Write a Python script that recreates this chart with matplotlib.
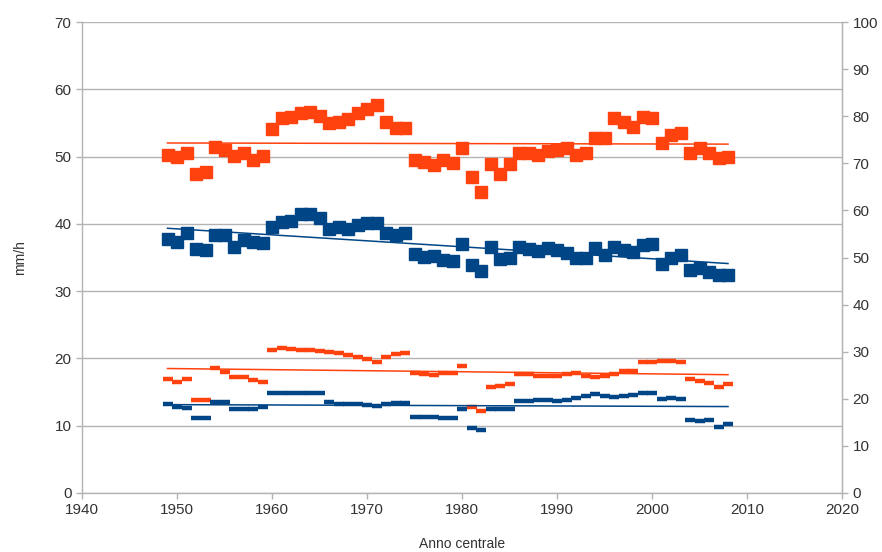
import numpy as np
import matplotlib
matplotlib.use("Agg")
import matplotlib.pyplot as plt
from matplotlib import font_manager

years = list(range(1949, 2009))

# large markers (mm/h)
orange_main = [50.2, 49.9, 50.5, 47.4, 47.7, 51.4, 51.0, 50.1, 50.5, 49.5,
               50.1, 54.1, 55.7, 55.9, 56.5, 56.6, 56.0, 55.0, 55.2, 55.6,
               56.5, 57.0, 57.6, 55.1, 54.2, 54.3, 49.5, 49.2, 48.7, 49.5,
               49.1, 51.3, 47.0, 44.7, 48.9, 47.4, 48.9, 50.5, 50.5, 50.2,
               50.9, 51.0, 51.3, 50.2, 50.5, 52.8, 52.7, 55.8, 55.2, 54.4,
               55.9, 55.7, 52.0, 53.2, 53.5, 50.6, 51.2, 50.5, 49.8, 49.9]
blue_main = [37.7, 37.3, 38.6, 36.2, 36.1, 38.3, 38.3, 36.6, 37.6, 37.3,
             37.1, 39.5, 40.3, 40.4, 41.5, 41.5, 40.9, 39.2, 39.5, 39.3,
             39.9, 40.1, 40.1, 38.6, 38.4, 38.6, 35.5, 35.1, 35.2, 34.6,
             34.5, 37.0, 33.9, 33.0, 36.6, 34.8, 34.9, 36.6, 36.2, 36.0,
             36.4, 36.1, 35.7, 34.9, 34.9, 36.4, 35.4, 36.6, 36.1, 35.8,
             36.8, 37.0, 34.0, 34.9, 35.4, 33.1, 33.4, 32.9, 32.4, 32.4]

# dash markers (mm/h)
orange_dash = [16.9, 16.5, 16.9, 13.8, 13.8, 18.6, 18.0, 17.3, 17.3, 16.8,
               16.5, 21.2, 21.5, 21.4, 21.2, 21.2, 21.1, 20.9, 20.8, 20.5,
               20.2, 19.9, 19.5, 20.2, 20.6, 20.8, 17.8, 17.7, 17.5, 17.8,
               17.8, 18.9, 12.8, 12.2, 15.8, 15.9, 16.2, 17.7, 17.7, 17.4,
               17.4, 17.4, 17.7, 17.8, 17.4, 17.3, 17.4, 17.7, 18.1, 18.1,
               19.4, 19.5, 19.6, 19.6, 19.5, 17.0, 16.6, 16.4, 15.8, 16.2]
blue_dash = [13.2, 12.8, 12.6, 11.1, 11.1, 13.5, 13.5, 12.5, 12.5, 12.5,
             12.8, 14.9, 14.9, 14.9, 14.9, 14.9, 14.9, 13.5, 13.3, 13.2,
             13.2, 13.1, 12.9, 13.3, 13.4, 13.4, 11.3, 11.3, 11.3, 11.1,
             11.1, 12.5, 9.7, 9.4, 12.5, 12.5, 12.5, 13.7, 13.7, 13.8,
             13.8, 13.7, 13.8, 14.1, 14.4, 14.7, 14.4, 14.2, 14.4, 14.6,
             14.9, 14.9, 14.0, 14.1, 14.0, 10.8, 10.7, 10.8, 9.8, 10.2]

x_ticks = list(range(1940, 2021, 10))
left_ticks = list(range(0, 71, 10))
right_ticks = list(range(0, 101, 10))

ORANGE = "#ff420e"
BLUE = "#004586"
GRID = "#b3b3b3"
TEXT = "#333333"

names = {f.name for f in font_manager.fontManager.ttflist}
family = "Liberation Sans Narrow" if "Liberation Sans Narrow" in names else "Liberation Sans"
plt.rcParams["font.family"] = [family, "DejaVu Sans"]

fig = plt.figure(figsize=(8.82, 5.52), dpi=100)
ax = fig.add_axes([82 / 882, 1 - 493 / 552, 760 / 882, 471 / 552])

x = np.array(years, dtype=float)


def trend(values, color):
    coef = np.polyfit(x, np.array(values), 1)
    ax.plot([x[0], x[-1]], np.polyval(coef, [x[0], x[-1]]),
            color=color, lw=1.1, zorder=3)


ax.plot(x, orange_main, ls="none", marker="s", ms=8.2, color=ORANGE,
        mec=ORANGE, zorder=2)
ax.plot(x, blue_main, ls="none", marker="s", ms=8.2, color=BLUE,
        mec=BLUE, zorder=2)
ax.plot(x, orange_dash, ls="none", marker="_", ms=7.8, mew=3.2,
        color=ORANGE, zorder=2)
ax.plot(x, blue_dash, ls="none", marker="_", ms=7.8, mew=3.2,
        color=BLUE, zorder=2)

for vals, col in ((orange_main, ORANGE), (blue_main, BLUE),
                  (orange_dash, ORANGE), (blue_dash, BLUE)):
    trend(vals, col)

ax.set_xlim(1940, 2020)
ax.set_ylim(0, 70)
ax.set_xticks(x_ticks)
ax.set_yticks(left_ticks)
ax.yaxis.grid(True, color=GRID, lw=1)
ax.set_axisbelow(True)

ax.spines["top"].set_visible(False)
for side in ("left", "right", "bottom"):
    ax.spines[side].set_color(GRID)
    ax.spines[side].set_linewidth(1)

ax.tick_params(axis="both", colors=GRID, labelcolor=TEXT, labelsize=11,
               length=4, width=1, direction="out")
ax.set_xlabel("Anno centrale", fontsize=10, color=TEXT, labelpad=14)
ax.set_ylabel("mm/h", fontsize=10, color=TEXT, labelpad=20)

ax2 = ax.twinx()
ax2.set_ylim(0, 100)
ax2.set_yticks(right_ticks)
for side in ("top", "left", "bottom"):
    ax2.spines[side].set_visible(False)
ax2.spines["right"].set_color(GRID)
ax2.tick_params(axis="y", colors=GRID, labelcolor=TEXT, labelsize=11,
                length=4, width=1, direction="out")

fig.savefig("out.png", dpi=100, facecolor="white")
